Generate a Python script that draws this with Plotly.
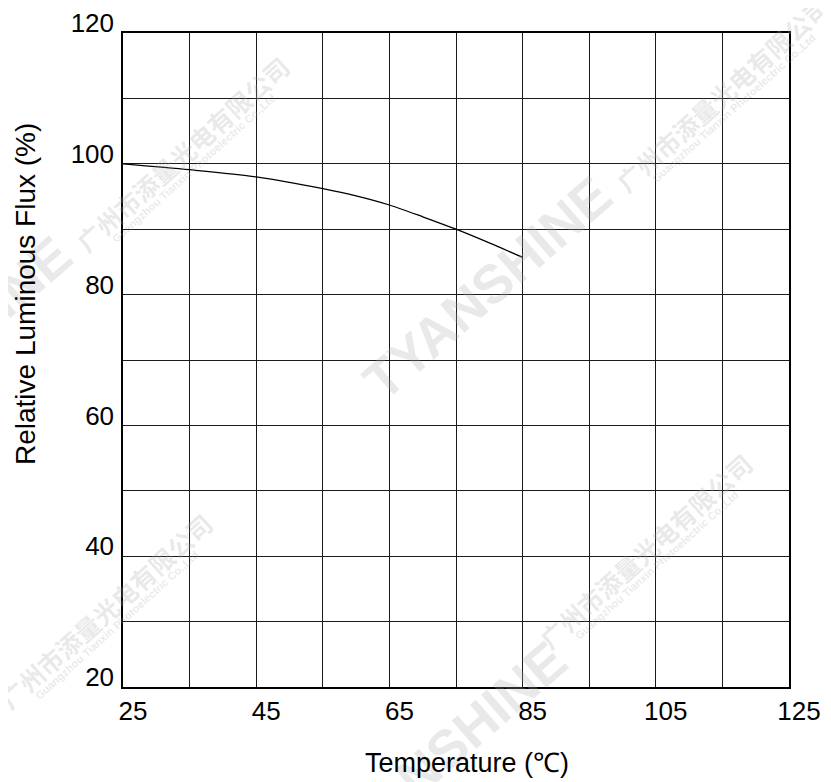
import plotly.graph_objects as go

# Data
temperature = [25, 35, 45, 55, 60, 65, 70, 75, 80, 85]
relative_flux = [100, 99.1, 98.0, 96.2, 95.1, 93.7, 91.9, 90.0, 87.9, 85.7]

x_tickvals = [25, 35, 45, 55, 65, 75, 85, 95, 105, 115, 125]
x_ticktext = ["25", "", "45", "", "65", "", "85", "", "105", "", "125"]
y_tickvals = [20, 30, 40, 50, 60, 70, 80, 90, 100, 110, 120]
y_ticktext = ["20", "", "40", "", "60", "", "80", "", "100", "", "120"]

FONT = "Liberation Sans, Arial, sans-serif"

# page-pixel -> paper helper (plot area spans x 123..789, y 33..687 on the page)
def pp(px, py):
    return (px - 123) / 666, (687 - py) / 654

fig = go.Figure()
fig.add_trace(go.Scatter(
    x=temperature, y=relative_flux, mode="lines",
    line=dict(color="black", width=1.3, shape="spline", smoothing=0.8),
    hoverinfo="skip", showlegend=False,
))

axis_common = dict(
    showgrid=True, gridcolor="#1a1a1a", gridwidth=1,
    showline=True, linecolor="black", linewidth=1.5, mirror=True,
    zeroline=False, ticks="", tickfont=dict(family=FONT, size=26, color="black"),
    ticklabeloverflow="allow", fixedrange=True,
)

fig.update_xaxes(range=[25, 125], tickmode="array", tickvals=x_tickvals,
                 ticktext=x_ticktext, ticklabelshift=10, ticklabelstandoff=0,
                 **axis_common)
fig.update_yaxes(range=[20, 120], tickmode="array", tickvals=y_tickvals,
                 ticktext=y_ticktext, ticklabelshift=-10, ticklabelstandoff=2,
                 **axis_common)

annotations = []
wm_color = "rgba(170,170,170,0.26)"
for cx, cy in [(487, 288), (-53, 348), (442, 753)]:
    x, y = pp(cx, cy)
    annotations.append(dict(
        x=x, y=y, xref="paper", yref="paper",
        text="<b>TYANSHINE</b>", showarrow=False, textangle=-41,
        xanchor="center", yanchor="middle",
        font=dict(family=FONT, size=54, color=wm_color),
    ))
for cx, cy in [(722, 94), (182, 154), (645, 551), (105, 611)]:
    x, y = pp(cx, cy)
    annotations.append(dict(
        x=x, y=y, xref="paper", yref="paper",
        text="<b>广州市添量光电有限公司</b>", showarrow=False, textangle=-42,
        xanchor="center", yanchor="middle",
        font=dict(family="Noto Sans CJK SC", size=25, color=wm_color),
    ))
    x2, y2 = pp(cx + 12, cy + 14)
    annotations.append(dict(
        x=x2, y=y2, xref="paper", yref="paper",
        text="<b>Guangzhou Tianxin Photoelectric Co.,Ltd</b>", showarrow=False,
        textangle=-42, xanchor="center", yanchor="middle",
        font=dict(family=FONT, size=11, color=wm_color),
    ))

# Axis titles
tx, ty = pp(467, 763)
annotations.append(dict(
    x=tx, y=ty, xref="paper", yref="paper",
    text="Temperature (℃)", showarrow=False, xanchor="center", yanchor="middle",
    font=dict(family=FONT, size=27, color="black"),
))
lx, ly = pp(25, 294)
annotations.append(dict(
    x=lx, y=ly, xref="paper", yref="paper",
    text="Relative Luminous Flux (%)", showarrow=False, textangle=-90,
    xanchor="center", yanchor="middle",
    font=dict(family=FONT, size=28, color="black"),
))

fig.update_layout(
    width=823, height=774,
    margin=dict(l=115, r=42, t=25, b=95, autoexpand=False),
    paper_bgcolor="white", plot_bgcolor="rgba(0,0,0,0)",
    annotations=annotations,
    showlegend=False,
)

fig.write_html("out.html", config={"displayModeBar": False})
